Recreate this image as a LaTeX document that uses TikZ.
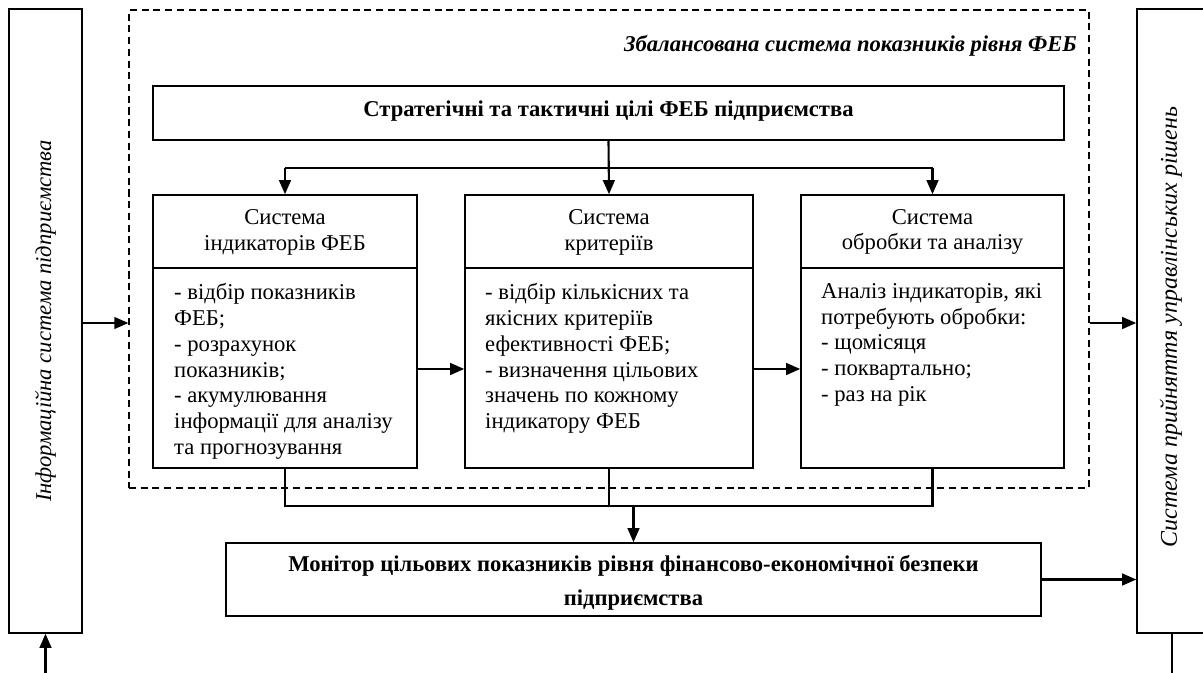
\documentclass[tikz,border=0pt]{standalone}
\usepackage{fontspec}
\setmainfont{Liberation Serif}
\usetikzlibrary{fit,arrows.meta,calc}
\newcommand\bodyfnt{\fontsize{19.3}{22.1}\selectfont}
\newcommand\monfnt{\fontsize{19.3}{29}\selectfont\bfseries}
\tikzset{
  px/.style={x=0.03cm,y=-0.03cm},
  solidbox/.style={draw,line width=1.3pt,inner sep=0pt,fill=white},
  dashbox/.style={draw,line width=1.1pt,dash pattern=on 6pt off 4pt,inner sep=0pt},
  conn/.style={line width=1.8pt},
  arr/.style={line width=1.8pt,-{Triangle[length=12pt,width=10pt]}},
  txt/.style={inner sep=0pt,font=\bodyfnt},
}
\begin{document}
\begin{tikzpicture}[px]
\useasboundingbox (0,0) rectangle (1203,673);
\clip (0,0) rectangle (1203,673);
% side boxes
\node[solidbox,fit={(9,9) (82,633)}] (lb) {};
\node[txt,rotate=90,font=\bodyfnt\itshape] (lbt) at (45.5,321) {Інформаційна система підприємства};
\node[solidbox,fit={(1137,9) (1210,633)}] (rb) {};
\node[txt,rotate=90,font=\fontsize{20.5}{24}\selectfont\itshape] (rbt) at (1171,327) {Система прийняття управлінських рішень};
% dashed frame
\node[dashbox,fit={(129,10) (1089,488)}] (db) {};
\node[txt,anchor=east,font=\bodyfnt\bfseries\itshape] (dbt) at (1077,46) {Збалансована система показників рівня ФЕБ};
% top box
\node[solidbox,fit={(153,86) (1064,140)}] (top) {};
\node[txt,font=\bodyfnt\bfseries] (topt) at (608.5,111) {Стратегічні та тактичні цілі ФЕБ підприємства};
% three boxes
\node[solidbox,fit={(153,195) (417,468)}] (b1) {};
\node[solidbox,fit={(465,195) (753,468)}] (b2) {};
\node[solidbox,fit={(801,195) (1064,468)}] (b3) {};
\foreach \b in {b1,b2,b3} {\draw[line width=1.3pt] (\b.west |- 0,268) -- (\b.east |- 0,268);}
\node[txt,align=center] (b1t) at (285,232) {Система\\індикаторів ФЕБ};
\node[txt,align=center] (b2t) at (609,232) {Система\\критеріїв};
\node[txt,align=center] (b3t) at (932.5,232) {Система\\обробки та аналізу};
\node[txt,align=left,anchor=north west] (b1b) at (174,283) {- відбір показників\\ФЕБ;\\- розрахунок\\показників;\\- акумулювання\\інформації для аналізу\\та прогнозування};
\node[txt,align=left,anchor=north west] (b2b) at (485,283) {- відбір кількісних та\\якісних критеріїв\\ефективності ФЕБ;\\- визначення цільових\\значень по кожному\\індикатору ФЕБ};
\node[txt,align=left,anchor=north west] (b3b) at (821,283) {Аналіз індикаторів, які\\потребують обробки:\\- щомісяця\\- поквартально;\\- раз на рік};
% monitor
\node[solidbox,fit={(226,543) (1041,616)}] (mon) {};
\node[txt,align=center,font=\monfnt] (mont) at (633.5,583) {Монітор цільових показників рівня фінансово-економічної безпеки\\підприємства};
% connectors
\coordinate (yin) at (0,323);
\coordinate (split) at (0,168);
\coordinate (ymid) at (0,369);
\coordinate (join) at (0,506);
\coordinate (lin) at (45.5,680);
\coordinate (rout) at (1172,680);
\draw[arr] (lb.east |- yin) -- (db.west |- yin);
\draw[arr] (db.east |- yin) -- (rb.west |- yin);
\draw[arr] (top.south) -- (b2.north);
\draw[conn] (b1.north |- split) -- (b3.north |- split);
\draw[arr] (b1.north |- split) -- (b1.north);
\draw[arr] (b3.north |- split) -- (b3.north);
\draw[arr] (b1.east |- ymid) -- (b2.west |- ymid);
\draw[arr] (b2.east |- ymid) -- (b3.west |- ymid);
\draw[conn] (b1.south) -- (b1.south |- join) -- (b3.south |- join) -- (b3.south);
\draw[conn] (b2.south) -- (b2.south |- join);
\draw[arr] (mon.north |- join) -- (mon.north);
\draw[arr] (mon.east) -- (rb.west |- mon.east);
\draw[arr] (lin) -- (lb.south);
\draw[conn] (rout |- rb.south) -- (rout);
\end{tikzpicture}
\end{document}
